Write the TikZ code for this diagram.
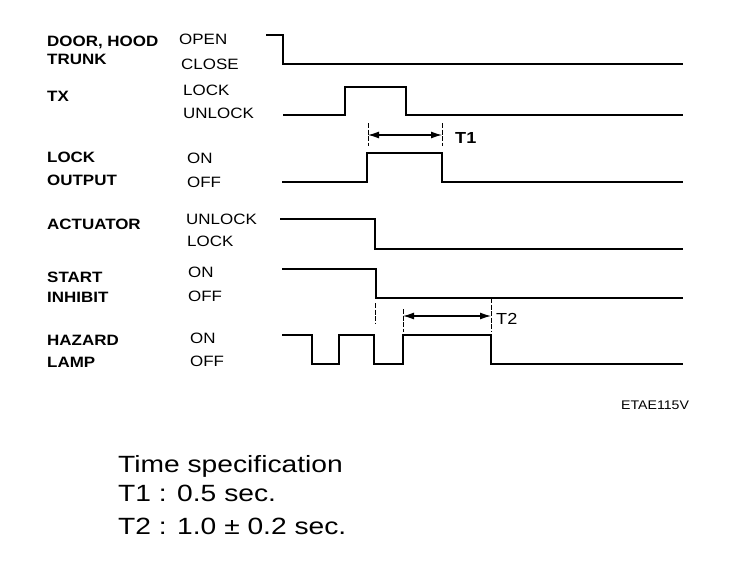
\documentclass[tikz,border=0pt]{standalone}
\usepackage{fontspec}
\setmainfont{Liberation Sans}[FakeStretch=1.13]
\newfontfamily\specfont{Liberation Sans}[FakeStretch=1.2]
\usetikzlibrary{arrows.meta}
\tikzset{
  sig/.style={line width=1.9pt, line join=miter},
  lab/.style={font=\fontsize{15}{17}\selectfont\bfseries, anchor=base west, inner sep=0pt},
  lvl/.style={font=\fontsize{15}{17}\selectfont, anchor=base west, inner sep=0pt},
  tlab/.style={font=\fontsize{16}{18}\selectfont, anchor=base west, inner sep=0pt},
  spec/.style={font=\specfont\fontsize{23.5}{26}\selectfont, anchor=base west, inner sep=0pt},
  code/.style={font=\fontsize{12.5}{14}\selectfont, anchor=base west, inner sep=0pt},
  tick/.style={line width=0.7pt, dash pattern=on 5pt off 1.5pt},
  dim/.style={line width=1.2pt, {Latex[length=11pt,width=7pt]}-{Latex[length=11pt,width=7pt]}}
}
\begin{document}
\begin{tikzpicture}[x=1pt,y=-1pt]
\useasboundingbox (0,0) rectangle (752,576);

% left labels
\node[lab] (l1) at (47,46) {DOOR, HOOD};
\node[lab] (l2) at (47,64) {TRUNK};
\node[lab] (l3) at (47,101) {TX};
\node[lab] (l4) at (47,162) {LOCK};
\node[lab] (l5) at (47,185) {OUTPUT};
\node[lab] (l6) at (47,229) {ACTUATOR};
\node[lab] (l7) at (47,282) {START};
\node[lab] (l8) at (47,302) {INHIBIT};
\node[lab] (l9) at (47,345) {HAZARD};
\node[lab] (l10) at (47,367) {LAMP};

% level labels
\node[lvl] (m1) at (179,44) {OPEN};
\node[lvl] (m2) at (181,69) {CLOSE};
\node[lvl] (m3) at (183,95) {LOCK};
\node[lvl] (m4) at (183,118) {UNLOCK};
\node[lvl] (m5) at (187,163) {ON};
\node[lvl] (m6) at (187,187) {OFF};
\node[lvl] (m7) at (186,224) {UNLOCK};
\node[lvl] (m8) at (187,246) {LOCK};
\node[lvl] (m9) at (188,277) {ON};
\node[lvl] (m10) at (188,301) {OFF};
\node[lvl] (m11) at (190,343) {ON};
\node[lvl] (m12) at (190,366) {OFF};

% waveforms
\draw[sig] (266,35) -- (283,35) -- (283,64) -- (683,64);
\draw[sig] (283,115) -- (345,115) -- (345,87) -- (406,87) -- (406,115) -- (683,115);
\draw[sig] (282,182) -- (367,182) -- (367,153) -- (442,153) -- (442,182) -- (683,182);
\draw[sig] (280,219) -- (375,219) -- (375,249) -- (683,249);
\draw[sig] (282,269) -- (376,269) -- (376,298) -- (683,298);
\draw[sig] (282,335) -- (312,335) -- (312,364) -- (339,364) -- (339,335) -- (374,335)
  -- (374,364) -- (403,364) -- (403,335) -- (491,335) -- (491,364) -- (683,364);

% T1 dimension
\coordinate (t1a) at (368,135);
\coordinate (t1b) at (442,135);
\draw[tick] (368,123) -- (368,146);
\draw[tick] (442,123) -- (442,146);
\draw[dim] (t1a) -- (t1b);
\node[tlab,font=\fontsize{16}{18}\selectfont\bfseries] (t1) at (455,143) {T1};

% T2 dimension
\coordinate (t2a) at (403,316);
\coordinate (t2b) at (491,316);
\draw[tick] (375,303) -- (375,323);
\draw[tick] (403,309) -- (403,332);
\draw[tick] (491,298) -- (491,332);
\draw[dim] (t2a) -- (t2b);
\node[tlab] (t2) at (496,324) {T2};

% code
\node[code] (code) at (621,409) {ETAE115V};

% specification
\node[spec] (s1) at (118,472) {Time specification};
\node[spec] (s2) at (118,501) {T1 : 0.5 sec.};
\node[spec] (s3) at (118,534) {T2 : 1.0 ± 0.2 sec.};
\end{tikzpicture}
\end{document}
